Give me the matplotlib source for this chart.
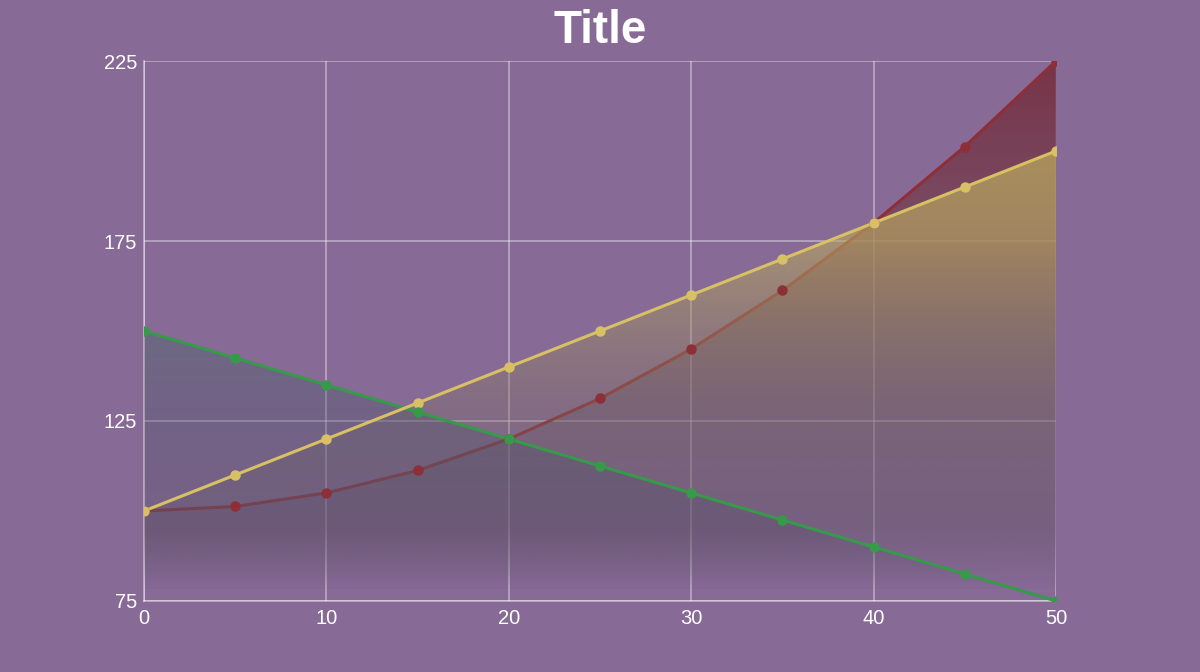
import matplotlib
matplotlib.use("Agg")
import matplotlib.pyplot as plt
import numpy as np

plt.rcParams["font.family"] = ["Liberation Sans", "DejaVu Sans"]

x = [0, 5, 10, 15, 20, 25, 30, 35, 40, 45, 50]
red_vals = [100, 101.25, 105, 111.25, 120, 131.25, 145, 161.25, 180, 201.25, 225]
yellow_vals = [100, 110, 120, 130, 140, 150, 160, 170, 180, 190, 200]
green_vals = [150, 142.5, 135, 127.5, 120, 112.5, 105, 97.5, 90, 82.5, 75]

x_ticks = [0, 10, 20, 30, 40, 50]
y_ticks = [75, 125, 175, 225]

bg = "#876a96"

# gradient stops for each area: (y value, r, g, b, alpha)
red_stops = [(225, 118, 42, 58, 0.85), (175, 112, 58, 70, 0.6),
             (125, 95, 78, 98, 0.35), (95, 95, 78, 100, 0.28), (78, 95, 78, 100, 0.0)]
yellow_stops = [(225, 198, 184, 92, 0.8), (175, 185, 168, 95, 0.62),
                (125, 122, 108, 102, 0.35), (95, 108, 92, 110, 0.28), (78, 108, 92, 110, 0.0)]
green_stops = [(225, 68, 104, 100, 0.4), (150, 68, 104, 100, 0.4),
               (125, 78, 84, 106, 0.36), (95, 85, 76, 102, 0.3), (78, 85, 76, 102, 0.0)]

series = [
    (red_vals, "#8e2f38", red_stops),
    (yellow_vals, "#d8c164", yellow_stops),
    (green_vals, "#379a4a", green_stops),
]

fig = plt.figure(figsize=(12, 6.72), dpi=100, facecolor=bg)
ax = fig.add_axes([0.12, 0.1057, 0.76, 0.8035])
ax.set_facecolor(bg)
ymin, ymax = 75, 225
ax.set_xlim(0, 50)
ax.set_ylim(ymin, ymax)

ys = np.linspace(ymax, ymin, 400)
for i, (vals, lc, stops) in enumerate(series):
    poly = ax.fill_between(x, vals, ymin, color="none", linewidth=0)
    sy = [s[0] for s in stops][::-1]
    grad = np.zeros((len(ys), 1, 4))
    for k in range(4):
        comp = [s[k + 1] for s in stops][::-1]
        grad[:, 0, k] = np.interp(ys, sy, comp)
    grad[:, 0, :3] /= 255.0
    im = ax.imshow(grad, extent=[0, 50, ymin, ymax], origin="upper",
                   aspect="auto", zorder=1 + i, interpolation="bilinear")
    im.set_clip_path(poly.get_paths()[0], transform=ax.transData)

# red line sits below the yellow fill
ax.plot(x, red_vals, color=series[0][1], lw=2.2, zorder=1.5)
ax.plot(x, green_vals, color=series[2][1], lw=2.2, zorder=4)
ax.plot(x, yellow_vals, color=series[1][1], lw=2.2, zorder=4.5)
for vals, lc, stops in series:
    ax.plot(x, vals, "o", color=lc, ms=6.5, zorder=6)

ax.set_xticks(x_ticks)
ax.set_yticks(y_ticks)
ax.grid(True, color="white", alpha=0.4, lw=1.3, zorder=0)
ax.set_axisbelow(True)
for s in ["top", "right"]:
    ax.spines[s].set_visible(False)
for s in ["left", "bottom"]:
    ax.spines[s].set_color((1, 1, 1, 0.45))
    ax.spines[s].set_linewidth(1.3)
ax.tick_params(colors="white", labelsize=14.5, length=0)
ax.tick_params(axis="x", pad=6)
ax.tick_params(axis="y", pad=5)

fig.text(0.5, 1 - 31 / 672, "Title", color="white", fontsize=33,
         fontweight="bold", ha="center", va="center")

fig.savefig("out.png", dpi=100, facecolor=bg)
